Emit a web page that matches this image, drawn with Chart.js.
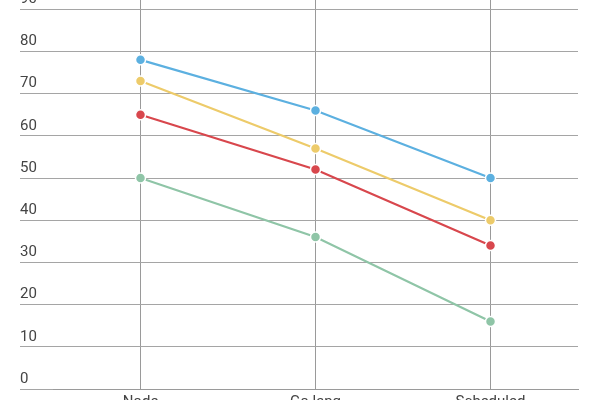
<!DOCTYPE html>
<html>
<head>
<meta charset="utf-8">
<script src="https://cdn.jsdelivr.net/npm/chart.js@4"></script>
<style>
    html, body { margin: 0; padding: 0; background: #fff; overflow: hidden; }
    #wrap { position: absolute; left: 0; top: -59px; width: 600px; height: 482px; }
</style>
</head>
<body>
<div id="wrap"><canvas id="lineChart"></canvas></div>
<script>
const categories = ["Node", "Go lang", "Scheduled"];
const yTicks = [0, 10, 20, 30, 40, 50, 60, 70, 80, 90, 100];
const blueValues = [78, 66, 50];
const yellowValues = [73, 57, 40];
const redValues = [65, 52, 34];
const greenValues = [50, 36, 16];

document.addEventListener("DOMContentLoaded", function () {
    const canvas = document.getElementById("lineChart");

    function series(label, values, color) {
        return {
            label: label,
            data: values,
            borderColor: color,
            backgroundColor: color,
            borderWidth: 2.2,
            pointRadius: 5,
            pointBorderColor: "#fff",
            pointBorderWidth: 1.5,
            pointHoverRadius: 5,
            tension: 0,
            fill: false
        };
    }

    new Chart(canvas, {
        type: "line",
        data: {
            labels: categories,
            datasets: [
                series("Blue", blueValues, "#5cb0e0"),
                series("Yellow", yellowValues, "#edcb6a"),
                series("Red", redValues, "#d8474d"),
                series("Green", greenValues, "#8fc5a7")
            ]
        },
        options: {
            responsive: true,
            maintainAspectRatio: false,
            animation: false,
            layout: {
                padding: { left: 20, right: 22, top: 26, bottom: 8 }
            },
            plugins: {
                legend: { display: false },
                tooltip: { enabled: false }
            },
            scales: {
                x: {
                    offset: true,
                    grid: { color: "#9a9a9a", lineWidth: 1, drawTicks: false },
                    border: { color: "#9a9a9a" },
                    ticks: {
                        padding: 4,
                        color: "#444",
                        font: { family: "Roboto", size: 15 }
                    }
                },
                y: {
                    min: 0,
                    max: 100,
                    afterBuildTicks: function (scale) {
                        scale.ticks = yTicks.map(function (v) { return { value: v }; });
                    },
                    afterFit: function (scale) {
                        scale.width = 33;
                    },
                    grid: { color: "#a5a5a5", lineWidth: 1, tickLength: 33 },
                    border: { display: false },
                    ticks: {
                        crossAlign: "far",
                        labelOffset: -10,
                        padding: 0,
                        color: "#444",
                        font: { family: "Roboto", size: 15 }
                    }
                }
            }
        }
    });
});
</script>
</body>
</html>
